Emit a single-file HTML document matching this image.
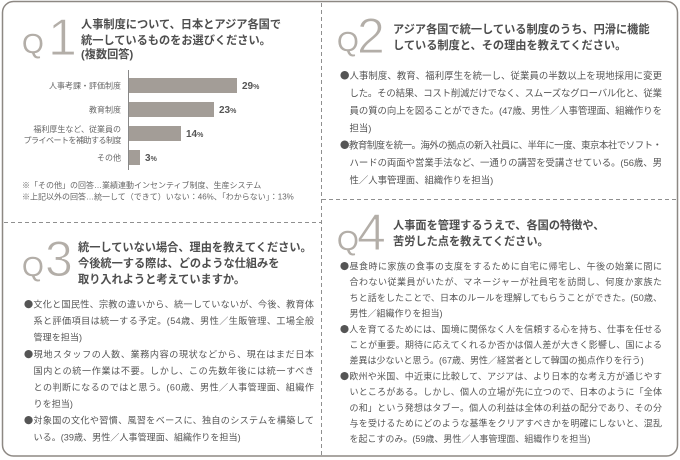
<!DOCTYPE html>
<html lang="ja">
<head>
<meta charset="utf-8">
<style>
html,body{margin:0;padding:0;background:#fff;}
svg{display:block;}
.q{font-family:"Liberation Sans",sans-serif;fill:#b3aea8;}
.n{stroke:#fff;stroke-width:1px;}
.t{font-family:"Liberation Sans","Noto Sans CJK JP",sans-serif;font-size:11.2px;font-weight:bold;fill:#4e4e4e;}
.b{font-family:"Liberation Sans","Noto Sans CJK JP",sans-serif;fill:#555;}
.d{font-family:"Noto Sans CJK JP",sans-serif;}
.s2{font-size:9.4px;}
.s3{font-size:9.1px;}
.s4{font-size:9px;}
.lab{font-family:"Liberation Sans","Noto Sans CJK JP",sans-serif;font-size:8px;fill:#666;}
.pct{font-family:"Liberation Sans",sans-serif;font-weight:bold;fill:#555;}
.note{font-family:"Liberation Sans","Noto Sans CJK JP",sans-serif;font-size:8px;fill:#666;}
</style>
</head>
<body>
<svg width="680" height="460" viewBox="0 0 680 460" xmlns="http://www.w3.org/2000/svg">
<rect width="680" height="460" fill="#fff"/>
<rect x="2.5" y="1.5" width="675" height="454.5" rx="11" ry="11" fill="none" stroke="#8d8883" stroke-width="1.5"/>
<!-- dashed separators -->
<g stroke="#8f8f8f" stroke-width="1" stroke-dasharray="4 3" fill="none">
<line x1="321.5" y1="3" x2="321.5" y2="455"/>
<line x1="4" y1="222.5" x2="321" y2="222.5"/>
<line x1="322" y1="199.5" x2="677" y2="199.5"/>
</g>

<!-- Q1 -->
<text class="q" x="22" y="53" font-size="28">Q</text>
<text class="q n" x="48" y="55" font-size="52">1</text>
<text class="t" x="81" y="28.2">人事制度について、日本とアジア各国で</text>
<text class="t" x="81" y="44.2">統一しているものをお選びください。</text>
<text class="t" x="81" y="58.2">(複数回答)</text>

<line x1="128.5" y1="70" x2="128.5" y2="170" stroke="#888" stroke-width="1"/>
<g fill="#a39d97">
<rect x="129" y="78" width="108" height="15"/>
<rect x="129" y="102" width="85" height="15"/>
<rect x="129" y="126" width="52" height="15"/>
<rect x="129" y="150" width="11" height="15"/>
</g>
<text class="lab" x="121" y="88.5" text-anchor="end">人事考課・評価制度</text>
<text class="lab" x="121" y="112.5" text-anchor="end">教育制度</text>
<text class="lab" x="121" y="132" text-anchor="end">福利厚生など、従業員の</text>
<text class="lab" x="121" y="143" text-anchor="end" letter-spacing="-0.5">プライベートを補助する制度</text>
<text class="lab" x="121" y="160.5" text-anchor="end">その他</text>
<text class="pct" x="242" y="89" font-size="10">29<tspan font-size="7">%</tspan></text>
<text class="pct" x="219" y="113" font-size="10">23<tspan font-size="7">%</tspan></text>
<text class="pct" x="186" y="137" font-size="10">14<tspan font-size="7">%</tspan></text>
<text class="pct" x="145" y="161" font-size="10">3<tspan font-size="7">%</tspan></text>

<text class="note" x="22" y="188">※「その他」の回答…業績連動インセンティブ制度、生産システム</text>
<text class="note" x="22" y="199.5">※上記以外の回答…統一して（できて）いない：46%、「わからない」：13%</text>

<!-- Q2 -->
<text class="q" x="337" y="51" font-size="28">Q</text>
<text class="q n" x="357" y="53" font-size="50">2</text>
<text class="t" x="393" y="33.2">アジア各国で統一している制度のうち、円滑に機能</text>
<text class="t" x="393" y="49.2">している制度と、その理由を教えてください。</text>

<text class="b s2" x="340" y="79.1" textLength="322" lengthAdjust="spacing"><tspan class="d">●</tspan>人事制度、教育、福利厚生を統一し、従業員の半数以上を現地採用に変更</text>
<text class="b s2" x="349.5" y="96.5" textLength="312.5" lengthAdjust="spacing">した。その結果、コスト削減だけでなく、スムーズなグローバル化と、従業</text>
<text class="b s2" x="349.5" y="113.9" textLength="312.5" lengthAdjust="spacing">員の質の向上を図ることができた。(47歳、男性／人事管理面、組織作りを</text>
<text class="b s2" x="349.5" y="131.3">担当)</text>
<text class="b s2" x="340" y="148.7" textLength="322" lengthAdjust="spacing"><tspan class="d">●</tspan>教育制度を統一。海外の拠点の新入社員に、半年に一度、東京本社でソフト・</text>
<text class="b s2" x="349.5" y="166.1" textLength="312.5" lengthAdjust="spacing">ハードの両面や営業手法など、一通りの講習を受講させている。(56歳、男</text>
<text class="b s2" x="349.5" y="183.5">性／人事管理面、組織作りを担当)</text>

<!-- Q3 -->
<text class="q" x="22" y="276" font-size="28">Q</text>
<text class="q n" x="45" y="276" font-size="50">3</text>
<text class="t" x="78" y="251.2">統一していない場合、理由を教えてください。</text>
<text class="t" x="78" y="267.2">今後統一する際は、どのような仕組みを</text>
<text class="t" x="78" y="283.2">取り入れようと考えていますか。</text>

<text class="b s3" x="24" y="307.5" textLength="290" lengthAdjust="spacing"><tspan class="d">●</tspan>文化と国民性、宗教の違いから、統一していないが、今後、教育体</text>
<text class="b s3" x="33.5" y="324.1" textLength="280.5" lengthAdjust="spacing">系と評価項目は統一する予定。(54歳、男性／生販管理、工場全般</text>
<text class="b s3" x="33.5" y="340.7">管理を担当)</text>
<text class="b s3" x="24" y="357.3" textLength="290" lengthAdjust="spacing"><tspan class="d">●</tspan>現地スタッフの人数、業務内容の現状などから、現在はまだ日本</text>
<text class="b s3" x="33.5" y="373.9" textLength="280.5" lengthAdjust="spacing">国内との統一作業は不要。しかし、この先数年後には統一すべき</text>
<text class="b s3" x="33.5" y="390.5" textLength="280.5" lengthAdjust="spacing">との判断になるのではと思う。(60歳、男性／人事管理面、組織作</text>
<text class="b s3" x="33.5" y="407.1">りを担当)</text>
<text class="b s3" x="24" y="423.7" textLength="290" lengthAdjust="spacing"><tspan class="d">●</tspan>対象国の文化や習慣、風習をベースに、独自のシステムを構築して</text>
<text class="b s3" x="33.5" y="440.3">いる。(39歳、男性／人事管理面、組織作りを担当)</text>

<!-- Q4 -->
<text class="q" x="337" y="250" font-size="28">Q</text>
<text class="q n" x="357" y="250" font-size="52">4</text>
<text class="t" x="393" y="229.2">人事面を管理するうえで、各国の特徴や、</text>
<text class="t" x="393" y="245.2">苦労した点を教えてください。</text>

<text class="b s4" x="340" y="269.5" textLength="322" lengthAdjust="spacing"><tspan class="d">●</tspan>昼食時に家族の食事の支度をするために自宅に帰宅し、午後の始業に間に</text>
<text class="b s4" x="349.5" y="285.2" textLength="312.5" lengthAdjust="spacing">合わない従業員がいたが、マネージャーが社員宅を訪問し、何度か家族た</text>
<text class="b s4" x="349.5" y="300.9" textLength="312.5" lengthAdjust="spacing">ちと話をしたことで、日本のルールを理解してもらうことができた。(50歳、</text>
<text class="b s4" x="349.5" y="316.6">男性／組織作りを担当)</text>
<text class="b s4" x="340" y="332.3" textLength="322" lengthAdjust="spacing"><tspan class="d">●</tspan>人を育てるためには、国境に関係なく人を信頼する心を持ち、仕事を任せる</text>
<text class="b s4" x="349.5" y="348" textLength="312.5" lengthAdjust="spacing">ことが重要。期待に応えてくれるか否かは個人差が大きく影響し、国による</text>
<text class="b s4" x="349.5" y="363.7">差異は少ないと思う。(67歳、男性／経営者として韓国の拠点作りを行う)</text>
<text class="b s4" x="340" y="379.4" textLength="322" lengthAdjust="spacing"><tspan class="d">●</tspan>欧州や米国、中近東に比較して、アジアは、より日本的な考え方が通じやす</text>
<text class="b s4" x="349.5" y="395.1" textLength="312.5" lengthAdjust="spacing">いところがある。しかし、個人の立場が先に立つので、日本のように「全体</text>
<text class="b s4" x="349.5" y="410.8" textLength="312.5" lengthAdjust="spacing">の和」という発想はタブー。個人の利益は全体の利益の配分であり、その分</text>
<text class="b s4" x="349.5" y="426.5" textLength="312.5" lengthAdjust="spacing">与を受けるためにどのような基準をクリアすべきかを明確にしないと、混乱</text>
<text class="b s4" x="349.5" y="442.2">を起こすのみ。(59歳、男性／人事管理面、組織作りを担当)</text>
</svg>
</body>
</html>
